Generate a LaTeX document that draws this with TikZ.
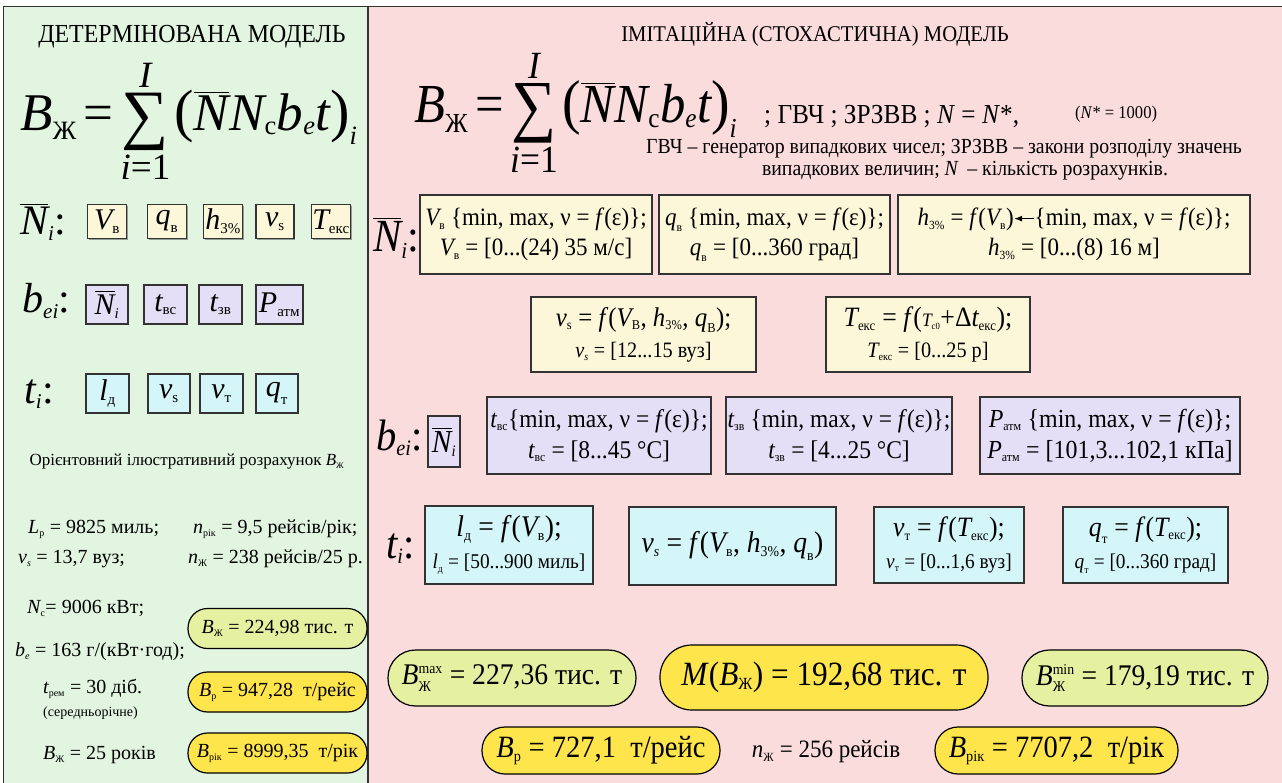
\documentclass[tikz,border=0pt]{standalone}
\usepackage{amsmath}
\usepackage{fontspec}
\setmainfont{Liberation Serif}
\newfontfamily\cond[FakeStretch=0.92]{Liberation Serif}
\usetikzlibrary{arrows.meta,shadows}
\definecolor{pgreen}{HTML}{E2F5E1}
\definecolor{ppink}{HTML}{FADCDD}
\definecolor{cream}{HTML}{FBF7D8}
\definecolor{lav}{HTML}{E4DFF6}
\definecolor{cyanb}{HTML}{D4F6F9}
\definecolor{lime}{HTML}{E5F1A1}
\definecolor{gold}{HTML}{FFE54C}
\definecolor{bd}{HTML}{333333}
\newcommand\mi[1]{\text{\itshape #1}}
\newcommand\mr[1]{\text{\upshape #1}}
\newcommand\eq{\mathrel{\mr{=}}}
\newcommand\fz[2]{\fontsize{#1}{#2}\selectfont}
\newcommand\V[2]{$\mi{#1}_{\scriptscriptstyle\mr{#2}}$}
\newcommand\Vi[2]{$\mi{#1}_{\scriptscriptstyle\mi{#2}}$}
\newcommand\Vu[3]{$\mi{#1}^{\scriptscriptstyle\mr{#3}}_{\scriptscriptstyle\mr{#2}}$}
\newcommand\ff{\textit{f}}
\newcommand\bigsum{\mathop{\raisebox{-0.1em}{\scalebox{1.25}{∑}}}}
\newcommand\bigf{$\mi{B}_{\scriptscriptstyle\mr{Ж}}\eq\bigsum\limits^{\mi{I}}_{\mi{i}\mr{=1}}\mr{\scalebox{1.1}{(}}\overline{\mi{N}}\mi{N}_{\scriptscriptstyle\mr{с}}\mi{b}_{\scriptscriptstyle\mi{e}}\mi{t}\mr{\scalebox{1.1}{)}}_{\scriptscriptstyle\mi{i}}$}
\newcommand\larr{\tikz[baseline=-0.28em]\draw[{Latex[length=8pt,width=6pt]}-,line width=1pt](0,0)--(20pt,0);}
\begin{document}
\begin{tikzpicture}[x=1pt,y=-1pt,
  shd/.style={drop shadow={shadow xshift=1.2pt, shadow yshift=-1.2pt, fill=black, opacity=0.35}},
  lbox/.style={shd, draw=bd, line width=1.2pt, inner sep=0pt, font=\fz{30}{30}},
  rbox/.style={shd, draw=bd, line width=1.2pt, inner sep=0pt, align=center, font=\cond\fz{25}{30}},
  oval/.style={draw=black, line width=1.2pt, inner sep=0pt},
  txt/.style={inner sep=0pt, anchor=base west, font=\fz{20}{22}}]
\useasboundingbox (0,0) rectangle (1282,783);
\fill[white] (0,0) rectangle (1282,783);
\begin{scope}
\clip (0,0) rectangle (1282,783);
\filldraw[fill=pgreen, draw=bd, line width=1.5pt] (3.5,6.5) rectangle (368,800);
\filldraw[fill=ppink, draw=bd, line width=1.5pt] (368,6.5) rectangle (1300,800);
\end{scope}

% ---------- left panel ----------
\node[font=\cond\fz{26}{28}] (ltitle) at (192,37) {ДЕТЕРМІНОВАНА МОДЕЛЬ};
\node[inner sep=0pt, anchor=base west, font=\fz{53}{56}] (lform) at (20,131) {\bigf};

\node[inner sep=0pt, anchor=base west, font=\fz{42}{42}] (lNi) at (20,235) {$\overline{\mi{N}}_{\scriptscriptstyle\mi{i}}$:};
\node[lbox, fill=cream, minimum width=39, minimum height=34] (lV) at (107,221.5) {\V{V}{в}};
\node[lbox, fill=cream, minimum width=39, minimum height=34] (lq) at (167,221.5) {\V{q}{в}};
\node[lbox, fill=cream, minimum width=39, minimum height=34] (lh) at (223,221.5) {\V{h}{3\%}};
\node[lbox, fill=cream, minimum width=38, minimum height=34] (lv) at (275,221.5) {\V{v}{s}};
\node[lbox, fill=cream, minimum width=39, minimum height=34] (lT) at (331,221.5) {\V{T}{екс}};

\node[inner sep=0pt, anchor=base west, font=\fz{42}{42}] (lbe) at (22,313) {\Vi{b}{ei}:};
\node[lbox, fill=lav, minimum width=42, minimum height=39] (lbN) at (107,304.5) {$\overline{\mi{N}}_{\scriptscriptstyle\mi{i}}$};
\node[lbox, fill=lav, minimum width=43, minimum height=39] (ltvs) at (165.5,304.5) {\V{t}{вс}};
\node[lbox, fill=lav, minimum width=43, minimum height=39] (ltzv) at (220.5,304.5) {\V{t}{зв}};
\node[lbox, fill=lav, minimum width=47, minimum height=39] (lP) at (279.5,304.5) {\V{P}{атм}};

\node[inner sep=0pt, anchor=base west, font=\fz{42}{42}] (lti) at (24,403) {\Vi{t}{i}:};
\node[lbox, fill=cyanb, minimum width=43, minimum height=39] (lld) at (107.5,393.5) {\V{l}{д}};
\node[lbox, fill=cyanb, minimum width=42, minimum height=39] (lvs) at (169,393.5) {\V{v}{s}};
\node[lbox, fill=cyanb, minimum width=43, minimum height=39] (lvt) at (221.5,393.5) {\V{v}{т}};
\node[lbox, fill=cyanb, minimum width=42, minimum height=39] (lqt) at (277,393.5) {\V{q}{т}};

\node[inner sep=0pt, font=\fz{17}{20}] (lnote) at (187,462) {Орієнтовний ілюстративний розрахунок \V{B}{Ж}};

\node[txt] (lL) at (28,533) {\V{L}{р} = 9825 миль;};
\node[txt] (lnr) at (193,533) {\V{n}{рік} = 9,5 рейсів/рік;};
\node[txt] (lvs2) at (18,563) {\Vi{v}{s} = 13,7 вуз;};
\node[txt] (lnz) at (188,563) {\V{n}{Ж} = 238 рейсів/25 р.};
\node[txt] (lNc) at (27,613) {\V{N}{с}= 9006 кВт;};
\node[txt] (lbe2) at (15,656) {\Vi{b}{e} = 163 г/(кВт·год);};
\node[txt] (ltr) at (43,693) {\V{t}{рем} = 30 діб.};
\node[txt, font=\fz{14}{16}] (lsr) at (43,716) {(середньорічне)};
\node[txt] (lBz) at (43,759) {\V{B}{Ж} = 25 років};

\node[oval, fill=lime, minimum width=179, minimum height=40, rounded corners=19.5pt, font=\fz{20}{22}] (lo1) at (277.5,628.5) {\V{B}{Ж} = 224,98 тис. т};
\node[oval, fill=gold, minimum width=179, minimum height=40, rounded corners=19.5pt, font=\fz{20}{22}] (lo2) at (277.5,692) {\V{B}{р} = 947,28~ т/рейс};
\node[oval, fill=gold, minimum width=179, minimum height=40, rounded corners=19.5pt, font=\fz{20}{22}] (lo3) at (277.5,753) {\V{B}{рік} = 8999,35~ т/рік};

% ---------- right panel ----------
\node[font=\cond\fz{22.5}{26}] (rtitle) at (815,34) {ІМІТАЦІЙНА (СТОХАСТИЧНА) МОДЕЛЬ};
\node[inner sep=0pt, anchor=base west, font=\cond\fz{55}{58}] (rform) at (414,123) {\bigf};
\node[inner sep=0pt, anchor=base west, font=\cond\fz{27.5}{28}] (rsuf) at (764,124) {; ГВЧ ; ЗРЗВВ ; \textit{N} = \textit{N}*,};
\node[inner sep=0pt, anchor=base west, font=\cond\fz{18}{18}] (rN) at (1075,119) {(\textit{N}* = 1000)};
\node[inner sep=0pt, font=\cond\fz{21.5}{22}] (rexp1) at (944,149) {ГВЧ – генератор випадкових чисел; ЗРЗВВ – закони розподілу значень};
\node[inner sep=0pt, font=\cond\fz{21.5}{22}] (rexp2) at (965,171) {випадкових величин; \textit{N} \,– кількість розрахунків.};

\node[inner sep=0pt, anchor=base west, font=\cond\fz{46}{46}] (rNi) at (373,252) {$\overline{\mi{N}}_{\scriptscriptstyle\mi{i}}$:};
\node[rbox, fill=cream, minimum width=232, minimum height=79] (rb1) at (536,234.5)
 {\V{V}{в} \{min, max, ν = \ff(ε)\};\\ \V{V}{в} = [0...(24) 35 м/с]};
\node[rbox, fill=cream, minimum width=231, minimum height=79] (rb2) at (774.5,234.5)
 {\V{q}{в} \{min, max, ν = \ff(ε)\};\\ \V{q}{в} = [0...360 град]};
\node[rbox, fill=cream, minimum width=352, minimum height=79] (rb3) at (1074,234.5)
 {\V{h}{3\%} = \ff(\V{V}{в})\larr\{min, max, ν = \ff(ε)\};\\ \V{h}{3\%} = [0...(8) 16 м]};

\node[rbox, fill=cream, minimum width=225, minimum height=75, font=\cond\fz{27}{31}] (rb4) at (643.5,334.5)
 {\V{v}{s} = \ff(\V{V}{В}, \V{h}{3\%}, \V{q}{В});\\ {\fz{22}{24}\Vi{v}{s} = [12...15 вуз]}};
\node[rbox, fill=cream, minimum width=204, minimum height=75, font=\cond\fz{28}{31}] (rb5) at (928,334.5)
 {\V{T}{екс} = \ff({\fz{19}{20}\V{T}{с0}}+Δ\V{t}{екс});\\ {\fz{22}{24}\V{T}{екс} = [0...25 р]}};

\node[inner sep=0pt, anchor=base west, font=\cond\fz{44}{44}] (rbe) at (376,450) {\Vi{b}{ei}:};
\node[rbox, fill=lav, minimum width=32, minimum height=51, font=\cond\fz{32}{32}] (rbN) at (444,441.5) {$\overline{\mi{N}}_{\scriptscriptstyle\mi{i}}$};
\node[rbox, fill=lav, minimum width=224, minimum height=77, font=\cond\fz{25.5}{31}] (rb6) at (599,435.5)
 {\V{t}{вс}\{min, max, ν = \ff(ε)\};\\ \V{t}{вс} = [8...45 °C]};
\node[rbox, fill=lav, minimum width=226, minimum height=77, font=\cond\fz{25.5}{31}] (rb7) at (839,435.5)
 {\V{t}{зв} \{min, max, ν = \ff(ε)\};\\ \V{t}{зв} = [4...25 °C]};
\node[rbox, fill=lav, minimum width=260, minimum height=77, font=\cond\fz{26}{31}] (rb8) at (1110,435.5)
 {\V{P}{атм} \{min, max, ν = \ff(ε)\};\\ \V{P}{атм} = [101,3...102,1 кПа]};

\node[inner sep=0pt, anchor=base west, font=\cond\fz{44}{44}] (rti) at (386,558) {\Vi{t}{i}:};
\node[rbox, fill=cyanb, minimum width=168, minimum height=78, font=\cond\fz{30}{32}] (rb9) at (509,545)
 {\V{l}{д} = \ff(\V{V}{в});\\ {\fz{21}{22}\V{l}{д} = [50...900 миль]}};
\node[rbox, fill=cyanb, minimum width=207, minimum height=78, font=\cond\fz{30}{32}] (rb10) at (732.5,546)
 {\Vi{v}{s} = \ff(\V{V}{в}, \V{h}{3\%}, \V{q}{в})};
\node[rbox, fill=cyanb, minimum width=150, minimum height=76, font=\cond\fz{28}{32}] (rb11) at (949,545)
 {\V{v}{т} = \ff(\V{T}{екс});\\ {\fz{21}{22}\V{v}{т} = [0...1,6 вуз]}};
\node[rbox, fill=cyanb, minimum width=165, minimum height=76, font=\cond\fz{28}{32}] (rb12) at (1145.5,545)
 {\V{q}{т} = \ff(\V{T}{екс});\\ {\fz{21}{22}\V{q}{т} = [0...360 град]}};

\node[oval, fill=lime, minimum width=248, minimum height=56, rounded corners=27.5pt, font=\cond\fz{30}{32}] (ro1) at (512,678)
 {\Vu{B}{Ж}{max} = 227,36 тис. т};
\node[oval, fill=gold, minimum width=328, minimum height=65, rounded corners=32pt, font=\cond\fz{34}{36}] (ro2) at (824,677.5)
 {\textit{M}(\V{B}{Ж}) = 192,68 тис. т};
\node[oval, fill=lime, minimum width=246, minimum height=56, rounded corners=27.5pt, font=\cond\fz{30}{32}] (ro3) at (1145,678)
 {\Vu{B}{Ж}{min} = 179,19 тис. т};
\node[oval, fill=gold, minimum width=238, minimum height=47, rounded corners=23pt, font=\cond\fz{31}{32}] (ro4) at (601,750.5)
 {\V{B}{р} = 727,1~ т/рейс};
\node[inner sep=0pt, font=\cond\fz{25}{26}] (rnz) at (826,752) {\V{n}{Ж} = 256 рейсів};
\node[oval, fill=gold, minimum width=243, minimum height=47, rounded corners=23pt, font=\cond\fz{31}{32}] (ro5) at (1056.5,750.5)
 {\V{B}{рік} = 7707,2~ т/рік};
\end{tikzpicture}
\end{document}
